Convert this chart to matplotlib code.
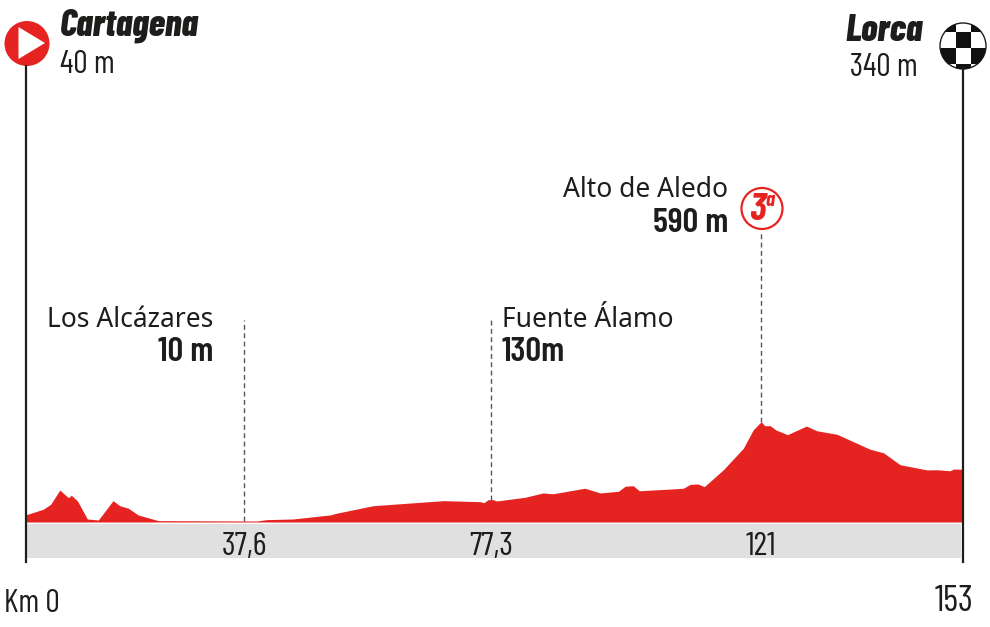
import matplotlib
matplotlib.use('Agg')
import matplotlib.pyplot as plt
from matplotlib.patches import Circle, Polygon, Rectangle

# profile
km = [0, 2.9, 4.1, 5.6, 7.0, 7.5, 8.5, 10.1, 11.9, 14.3, 15.4, 16.8, 18.4, 21.7,
      37.8, 39.4, 43.7, 49.8, 50.8, 56.8, 68.3, 74.3, 74.9, 75.6, 76.4, 77.0,
      81.6, 84.6, 86.2, 91.4, 93.9, 96.9, 98.0, 99.3, 100.3, 105.3, 107.5, 108.6,
      109.9, 110.9, 114.0, 117.3, 118.9, 120.2, 120.8, 121.7, 122.6, 124.5, 127.6,
      129.3, 132.6, 138.0, 140.2, 142.9, 147.3, 148.9, 151.1, 151.6, 153]
altitude = [42, 76, 105, 190, 145, 159, 125, 18, 12, 127, 97, 82, 42, 8,
            6, 14, 18, 42, 52, 97, 127, 121, 115, 133, 133, 125,
            147, 173, 168, 201, 173, 183, 213, 216, 186, 196, 201, 224,
            226, 210, 310, 439, 548, 597, 573, 573, 548, 520, 571,
            543, 522, 433, 412, 341, 310, 311, 305, 315, 314]

# the marks are not quite on a linear km scale in the original
marker_pos = [35.7, 76.05, 120.2]
marker_top = [1200, 1200, 1725]
marker_base = [6, 133, 597]
marker_labels = ['37,6', '77,3', '121']

RED = '#e52421'
GREY = '#e0e0e0'
INK = '#1d1d1b'
NARROW = ['Barlow Condensed', 'Liberation Sans Narrow', 'Liberation Sans', 'DejaVu Sans']
PLAIN = ['Noto Sans', 'DejaVu Sans']

W, H = 990, 627
PX_KM = 6.12
PX_M = 0.168
X0, Y0 = 25.5, 522

fig = plt.figure(figsize=(W / 100, H / 100), dpi=100)

ax = fig.add_axes([0, 0, 1, 1])
ax.set_xlim(-X0 / PX_KM, (W - X0) / PX_KM)
ax.set_ylim((Y0 - H) / PX_M, Y0 / PX_M)
ax.axis('off')

ax.fill_between(km, altitude, 0, color=RED, lw=0)
ax.vlines(marker_pos, marker_base, marker_top, colors='#555555', lw=1,
          linestyles=(0, (3.5, 2.5)))

# overlay in pixel coordinates for the furniture
px = fig.add_axes([0, 0, 1, 1])
px.set_xlim(0, W)
px.set_ylim(H, 0)
px.axis('off')

px.add_patch(Rectangle((26, 524), 935, 34, fc=GREY, ec='none'))
px.plot([25.5, 25.5], [66, 562], color=INK, lw=1.6)
px.plot([962.5, 962.5], [68, 562], color=INK, lw=1.6)

# start sign
px.add_patch(Circle((27, 43.5), 22.5, fc=RED, ec='none'))
px.add_patch(Polygon([(18.5, 27), (45, 43), (18.5, 59)], fc='white', ec='none'))

# finish sign
disc = Circle((963, 46), 23, fc='white', ec=INK, lw=1)
px.add_patch(disc)
rows = [(23, 9, [941, 971]), (32, 16, [956]), (48, 16, [941, 971]), (64, 7, [956])]
for top, tall, lefts in rows:
    for left in lefts:
        cell = Rectangle((left, top), 15, tall, fc='#111111', ec='none')
        px.add_patch(cell)
        cell.set_clip_path(disc)

# category badge
px.add_patch(Circle((762, 208.5), 20.5, fc='white', ec=RED, lw=1.6))
px.text(757, 220.5, '3', color=RED, family=NARROW, weight='bold', style='italic',
        fontsize=28, ha='center', va='baseline')
px.text(770, 206, 'a', color=RED, family=NARROW, weight='bold', style='italic',
        fontsize=15, ha='center', va='baseline')

# town names
px.text(60, 36, 'Cartagena', color=INK, family=NARROW, weight=800, style='italic',
        fontsize=27, ha='left', va='baseline')
px.text(60, 73, '40\u2009m', color=INK, family=NARROW, fontsize=23, ha='left', va='baseline')
px.text(923, 41, 'Lorca', color=INK, family=NARROW, weight=800, style='italic',
        fontsize=27, ha='right', va='baseline')
px.text(918, 76, '340\u2009m', color=INK, family=NARROW, fontsize=23, ha='right', va='baseline')

px.text(728, 197, 'Alto de Aledo', color=INK, family=PLAIN, fontsize=19, ha='right', va='baseline')
px.text(728, 232, '590 m', color=INK, family=NARROW, weight=600, fontsize=25,
        ha='right', va='baseline')
px.text(213, 327, 'Los Alcázares', color=INK, family=PLAIN, fontsize=19, ha='right', va='baseline')
px.text(213, 361, '10 m', color=INK, family=NARROW, weight=600, fontsize=25,
        ha='right', va='baseline')
px.text(502, 327, 'Fuente Álamo', color=INK, family=PLAIN, fontsize=19, ha='left', va='baseline')
px.text(502, 361, '130m', color=INK, family=NARROW, weight=600, fontsize=25,
        ha='left', va='baseline')

# km labels in the grey band
for pos, lab in zip(marker_pos, marker_labels):
    px.text(pos, (Y0 - 555) / PX_M, lab, transform=ax.transData, color=INK, family=NARROW,
            fontsize=24, ha='center', va='baseline')
px.text(4, 612, 'Km\u20090', color=INK, family=NARROW, fontsize=23, ha='left', va='baseline')
px.text(974, 611, '153', color=INK, family=NARROW, fontsize=26, ha='right', va='baseline')

fig.savefig('out.png', dpi=100)
